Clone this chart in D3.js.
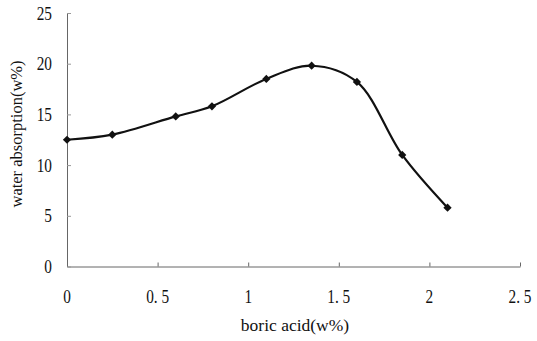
<!DOCTYPE html>
<html>
<head>
<meta charset="utf-8">
<script src="https://cdn.jsdelivr.net/npm/d3@7"></script>
<style>
  html, body { margin: 0; padding: 0; background: #fff; }
  svg text { font-family: "Liberation Serif", "DejaVu Serif", serif; fill: #111; }
</style>
</head>
<body>
<div id="chart"></div>
<script>
// boric acid content (w%) vs water absorption (w%)
const boricAcid = [0, 0.25, 0.6, 0.8, 1.1, 1.35, 1.6, 1.85, 2.1];
const waterAbsorption = [12.5, 13.0, 14.8, 15.8, 18.5, 19.8, 18.2, 11.0, 5.8];
const xTicks = [0, 0.5, 1, 1.5, 2, 2.5];
const xTickLabels = ["0", "0. 5", "1", "1. 5", "2", "2. 5"];
const yTicks = [0, 5, 10, 15, 20, 25];

const width = 537, height = 341;
const margin = { top: 13, right: 17, bottom: 75, left: 67 };

const svg = d3.select('#chart')
  .append('svg')
  .attr('width', width)
  .attr('height', height);

const x = d3.scaleLinear().domain([0, 2.5]).range([margin.left, width - margin.right]);
const y = d3.scaleLinear().domain([0, 25]).range([height - margin.bottom + 0.5, margin.top]);

// axes with inward ticks
const xAxis = svg.append('g')
  .attr('transform', `translate(0,${y(0)})`)
  .call(d3.axisBottom(x).tickValues(xTicks).tickSizeInner(-4).tickSizeOuter(0).tickFormat(''));
xAxis.select('.domain').attr('stroke', '#666');
xAxis.selectAll('.tick line').attr('stroke', '#666');

const yAxis = svg.append('g')
  .attr('transform', `translate(${x(0)},0)`)
  .call(d3.axisLeft(y).tickValues(yTicks).tickSizeInner(-4).tickSizeOuter(0).tickFormat(''));
yAxis.select('.domain').attr('stroke', '#666');
yAxis.selectAll('.tick line').attr('stroke', '#999');

// tick labels (slightly condensed, tall digits)
svg.selectAll('.xlab')
  .data(xTicks)
  .enter().append('text')
  .attr('class', 'xlab')
  .attr('transform', d => `translate(${x(d)},303) scale(0.9,1.1)`)
  .attr('text-anchor', 'middle')
  .style('font-size', '17px')
  .text((d, i) => xTickLabels[i]);

svg.selectAll('.ylab')
  .data(yTicks)
  .enter().append('text')
  .attr('class', 'ylab')
  .attr('transform', d => `translate(52,${y(d) + 6.5}) scale(0.9,1.1)`)
  .attr('text-anchor', 'end')
  .style('font-size', '17px')
  .text(d => d);

// axis titles
svg.append('text')
  .attr('x', 295)
  .attr('y', 331)
  .attr('text-anchor', 'middle')
  .style('font-size', '17.5px')
  .text('boric acid(w%)');

svg.append('text')
  .attr('transform', 'translate(22,134) rotate(-90)')
  .attr('text-anchor', 'middle')
  .style('font-size', '16.5px')
  .text('water absorption(w%)');

// smoothed line
const pts = boricAcid.map((b, i) => [b, waterAbsorption[i]]);
const line = d3.line()
  .x(d => x(d[0]))
  .y(d => y(d[1]))
  .curve(d3.curveCatmullRom.alpha(0.5));

svg.append('path')
  .datum(pts)
  .attr('d', line)
  .attr('fill', 'none')
  .attr('stroke', '#111')
  .attr('stroke-width', 2.2);

// diamond markers (rotated squares)
const square = d3.symbol().type(d3.symbolSquare).size(34);
svg.selectAll('.marker')
  .data(pts)
  .enter().append('path')
  .attr('class', 'marker')
  .attr('transform', d => `translate(${x(d[0])},${y(d[1])}) rotate(45)`)
  .attr('d', square)
  .attr('fill', '#111');
</script>
</body>
</html>
